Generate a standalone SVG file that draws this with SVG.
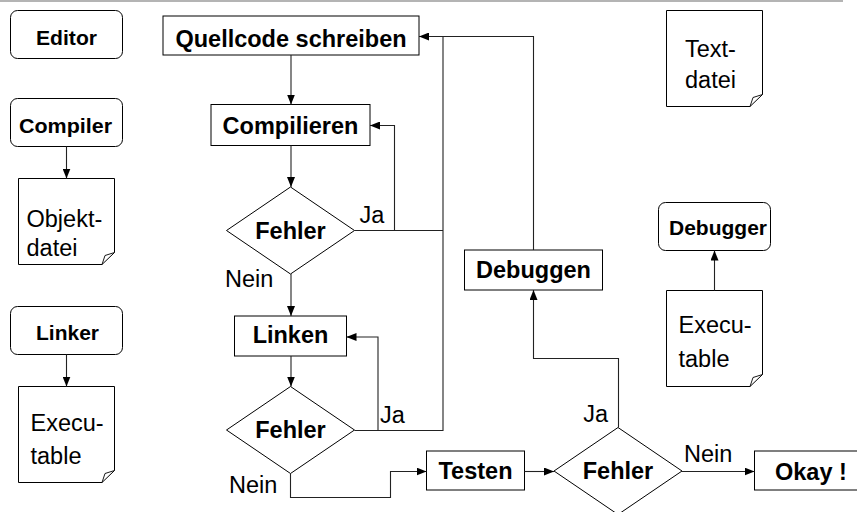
<svg xmlns="http://www.w3.org/2000/svg" width="857" height="512" viewBox="0 0 857 512">
<defs>
<marker id="ah" markerWidth="10" markerHeight="8" refX="10" refY="4" orient="auto" markerUnits="userSpaceOnUse">
<path d="M0,0 L10,4 L0,8 Z" fill="#000"/>
</marker>
<style>
.box{fill:#fff;stroke:#000;stroke-width:1}
.doc{fill:#fff;stroke:#000;stroke-width:1}
.fold{fill:none;stroke:#000;stroke-width:0.9}
.con{fill:none;stroke:#222;stroke-width:1.1}
.arr{marker-end:url(#ah)}
.lb{font-family:"Liberation Sans",Arial,Helvetica,sans-serif;font-weight:bold;font-size:23.5px;fill:#000;text-anchor:middle}
.sb{font-family:"Liberation Sans",Arial,Helvetica,sans-serif;font-weight:bold;font-size:20.5px;fill:#000;text-anchor:middle}
.rt{font-family:"Liberation Sans",Arial,Helvetica,sans-serif;font-size:23.5px;fill:#000}
</style>
</defs>
<rect x="0" y="0" width="843" height="2" fill="#b4b4b4"/>

<g id="editor"><rect class="box" x="10.5" y="10.5" width="112" height="48" rx="7"/><text class="sb" x="66.5" y="45" textLength="61" lengthAdjust="spacingAndGlyphs">Editor</text></g>
<g id="compiler"><rect class="box" x="10.5" y="98.5" width="112" height="48" rx="7"/><text class="sb" x="65.5" y="132.5" textLength="93" lengthAdjust="spacingAndGlyphs">Compiler</text></g>
<g id="objektdatei"><path class="doc" d="M18.5,178.5 H114.5 V252.5 L102,264.5 H18.5 Z"/><path class="fold" d="M114.5,252.5 L105,255.5 L102,264.5"/><text class="rt" x="26.5" y="226.5">Objekt-</text><text class="rt" x="26.5" y="256">datei</text></g>
<g id="linker"><rect class="box" x="10.5" y="306.5" width="112" height="48" rx="7"/><text class="sb" x="67.5" y="340" textLength="63" lengthAdjust="spacingAndGlyphs">Linker</text></g>
<g id="executable1"><path class="doc" d="M18.5,386.5 H114.5 V470.5 L102,482.5 H18.5 Z"/><path class="fold" d="M114.5,470.5 L105,473.5 L102,482.5"/><text class="rt" x="30.5" y="430.5">Execu-</text><text class="rt" x="30.5" y="464">table</text></g>

<g id="quellcode"><rect class="box" x="163" y="16" width="256" height="39"/><text class="lb" x="291" y="47">Quellcode schreiben</text></g>
<g id="compilieren"><rect class="box" x="211" y="104.5" width="159" height="41"/><text class="lb" x="290.5" y="133.5">Compilieren</text></g>
<g id="fehler1"><polygon class="box" points="290.5,187 354.5,230.5 290.5,274 226.5,230.5"/><text class="lb" x="290.5" y="239.3">Fehler</text></g>
<g id="linken"><rect class="box" x="234.5" y="316" width="112" height="40"/><text class="lb" x="290.5" y="343.3">Linken</text></g>
<g id="fehler2"><polygon class="box" points="290.5,386.5 354.5,430 290.5,473.5 226.5,430"/><text class="lb" x="290.5" y="438.3">Fehler</text></g>
<g id="testen"><rect class="box" x="426.5" y="451" width="98" height="39"/><text class="lb" x="475.5" y="479.3">Testen</text></g>
<g id="fehler3"><polygon class="box" points="618,427.5 682,471 618,514.5 554,471"/><text class="lb" x="618" y="479.3">Fehler</text></g>
<g id="okay"><rect class="box" x="754.5" y="451" width="120" height="39"/><text class="lb" x="775" y="480" style="text-anchor:start">Okay !</text></g>
<g id="debuggen"><rect class="box" x="464.5" y="250" width="138" height="40"/><text class="lb" x="533.5" y="278.3">Debuggen</text></g>

<g id="textdatei"><path class="doc" d="M666.5,10.5 H762.5 V94.5 L750,106.5 H666.5 Z"/><path class="fold" d="M762.5,94.5 L753,97.5 L750,106.5"/><text class="rt" x="685" y="56.7">Text-</text><text class="rt" x="685" y="88.3">datei</text></g>
<g id="debugger"><rect class="box" x="658.5" y="202.5" width="112" height="48" rx="7"/><text class="sb" x="718" y="235" textLength="98" lengthAdjust="spacingAndGlyphs">Debugger</text></g>
<g id="executable2"><path class="doc" d="M666.5,290.5 H762.5 V374.5 L750,386.5 H666.5 Z"/><path class="fold" d="M762.5,374.5 L753,377.5 L750,386.5"/><text class="rt" x="678.5" y="333.3">Execu-</text><text class="rt" x="678.5" y="366.7">table</text></g>

<g id="connectors">
<path class="con arr" d="M66.5,146.5 V178.5"/>
<path class="con arr" d="M66.5,354.5 V386.5"/>
<path class="con arr" d="M714.5,290.5 V250.5"/>
<path class="con arr" d="M291,55 V104.5"/>
<path class="con arr" d="M291,145.5 V187"/>
<path class="con arr" d="M394.5,230.5 V125.5 H370"/>
<path class="con" d="M354.5,230.5 H443"/>
<path class="con arr" d="M354.5,430.5 H443 V36.5 H419"/>
<path class="con arr" d="M378,430.5 V337 H346.5"/>
<path class="con arr" d="M291,274 V316"/>
<path class="con arr" d="M291,356 V386.5"/>
<path class="con arr" d="M290.5,473.5 V497.5 H390.5 V471.5 H426.5"/>
<path class="con arr" d="M524.5,471.5 H554"/>
<path class="con arr" d="M618.5,427.5 V358.5 H533.5 V290"/>
<path class="con" d="M533.5,250 V36.5 H443"/>
<path class="con arr" d="M682,471.5 H754.5"/>
</g>
<g id="labels">
<text class="rt" x="359.5" y="223.3">Ja</text>
<text class="rt" x="225" y="286.7">Nein</text>
<text class="rt" x="380" y="422.7">Ja</text>
<text class="rt" x="229" y="493.3">Nein</text>
<text class="rt" x="583.3" y="421.7">Ja</text>
<text class="rt" x="684" y="461.7">Nein</text>
</g>
</svg>
